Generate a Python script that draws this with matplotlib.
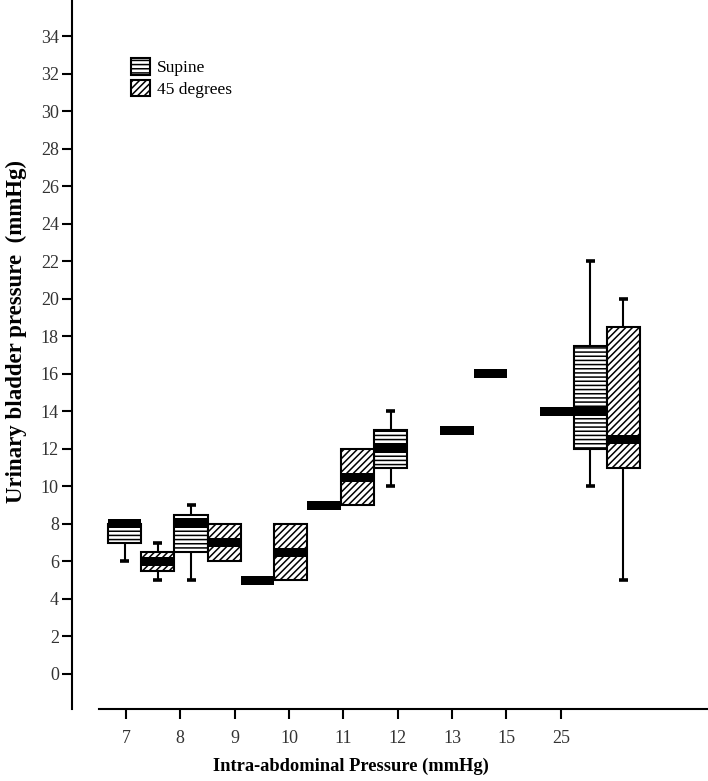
import numpy as np
import matplotlib.pyplot as plt
from matplotlib.patches import Patch

# groups of boxes, each group = supine then 45 degrees
series = ['Supine', '45 degrees']
hatches = ['----', '/////']
xtick_labels = ['7', '8', '9', '10', '11', '12', '13', '15', '25']
nan = np.nan

supine_q1 = [7, 6.5, 5, 9, 11, 13, nan, 12]
supine_med = [8, 8, 5, 9, 12, 13, nan, 14]
supine_q3 = [8, 8.5, 5, 9, 13, 13, nan, 17.5]
supine_lo = [6, 5, 5, 9, 10, 13, nan, 10]
supine_hi = [8, 9, 5, 9, 14, 13, nan, 22]

deg45_q1 = [5.5, 6, 5, 9, nan, 16, 14, 11]
deg45_med = [6, 7, 6.5, 10.5, nan, 16, 14, 12.5]
deg45_q3 = [6.5, 8, 8, 12, nan, 16, 14, 18.5]
deg45_lo = [5, 6, 5, 9, nan, 16, 14, 5]
deg45_hi = [7, 8, 8, 12, nan, 16, 14, 20]

yticks = list(range(0, 35, 2))

plt.rcParams['font.family'] = ['Liberation Serif', 'DejaVu Serif']
plt.rcParams['hatch.linewidth'] = 1.1

W, H = 708, 781
fig = plt.figure(figsize=(W / 100, H / 100), dpi=100)
ax = fig.add_axes([72 / W, (H - 709) / H, (708 - 72) / W, 709 / H])

slot_px = 33.26
x0_px = 124.5
ax.set_xlim((72 - x0_px) / slot_px, (708 - x0_px) / slot_px)
ax.set_ylim((674 - 709) / 18.76, 674 / 18.76)

stats = [
    (supine_q1, supine_med, supine_q3, supine_lo, supine_hi),
    (deg45_q1, deg45_med, deg45_q3, deg45_lo, deg45_hi),
]
cap_half = 0.135
for s, (q1, med, q3, lo, hi) in enumerate(stats):
    q1, med, q3, lo, hi = map(np.array, (q1, med, q3, lo, hi))
    x = 2 * np.arange(len(med)) + s
    ok = ~np.isnan(med)
    x, q1, med, q3, lo, hi = x[ok], q1[ok], med[ok], q3[ok], lo[ok], hi[ok]
    # whiskers
    for xi, a, b in zip(x, lo, q1):
        if a < b:
            ax.vlines(xi, a, b, color='black', lw=1.5, zorder=1)
            ax.hlines(a, xi - cap_half, xi + cap_half, color='black', lw=2.6, zorder=1)
    for xi, a, b in zip(x, q3, hi):
        if b > a:
            ax.vlines(xi, a, b, color='black', lw=1.5, zorder=1)
            ax.hlines(b, xi - cap_half, xi + cap_half, color='black', lw=2.6, zorder=1)
    ax.bar(x, q3 - q1, bottom=q1, width=1.0, facecolor='white',
           edgecolor='black', linewidth=1.5, hatch=hatches[s], zorder=2)
    # thick median bars
    ax.bar(x, 0.48, bottom=med - 0.24, width=1.0, color='black', linewidth=0, zorder=3)

tick_pos = 0.04 + 1.635 * np.arange(len(xtick_labels))
ax.set_xticks(tick_pos)
ax.set_xticklabels(xtick_labels)
ax.set_yticks(yticks)

for side in ['top', 'right']:
    ax.spines[side].set_visible(False)
for side in ['left', 'bottom']:
    ax.spines[side].set_linewidth(1.5)
ax.spines['bottom'].set_bounds((99 - x0_px) / slot_px, (708 - x0_px) / slot_px)

ax.tick_params(axis='both', length=7, width=1.5, color='black',
               labelcolor='#333333', labelsize=13)
ax.tick_params(axis='y', pad=2.5)
ax.tick_params(axis='x', pad=8)

ax.set_xlabel('Intra-abdominal Pressure (mmHg)', fontsize=13.3, fontweight='bold')
ax.set_ylabel('Urinary bladder pressure  (mmHg)', fontsize=16.5, fontweight='bold')
ax.xaxis.set_label_coords((351 - 72) / 636, (709 - 758) / 709)
ax.yaxis.set_label_coords((27 - 72) / 636, (709 - 331) / 709)

handles = [Patch(facecolor='white', edgecolor='black', linewidth=1.5, hatch=h) for h in hatches]
fig.legend(handles, series, loc='upper left', bbox_to_anchor=(131 / W, 1 - 58 / H),
           frameon=False, borderpad=0, borderaxespad=0, fontsize=12.5,
           handlelength=1.1, handleheight=1.1, handletextpad=0.4, labelspacing=0.2)

fig.savefig('out.png', dpi=100)
